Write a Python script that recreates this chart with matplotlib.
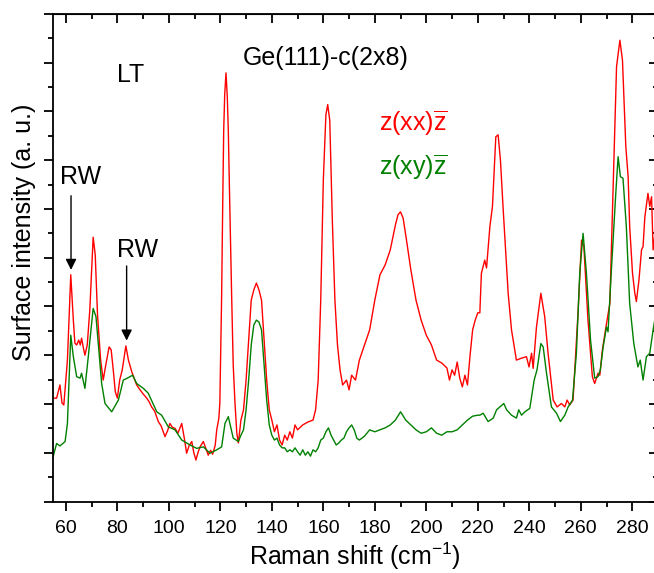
import numpy as np
import matplotlib
matplotlib.use("Agg")
from matplotlib import pyplot as plt
from matplotlib.ticker import MultipleLocator, NullFormatter

plt.rcParams['font.family'] = ['Liberation Sans', 'DejaVu Sans']
plt.rcParams['mathtext.fontset'] = 'custom'
plt.rcParams['mathtext.rm'] = 'Liberation Sans'
plt.rcParams['mathtext.it'] = 'Liberation Sans:italic'
plt.rcParams['mathtext.bf'] = 'Liberation Sans:bold'
plt.rcParams['mathtext.default'] = 'regular'

# z(xx)z spectrum (red)
shift_xx = [55.0, 56.4, 57.7, 58.5, 59.2, 60.6, 61.9, 62.9, 63.5, 64.2, 65.0, 65.6, 66.1, 66.8,
            67.4, 68.3, 69.3, 70.6, 71.4, 72.3, 73.5, 74.5, 75.5, 76.8, 77.6, 78.4, 79.2, 80.0,
            80.9, 81.9, 83.3, 84.3, 85.6, 86.5, 87.5, 88.8, 90.1, 91.4, 92.3, 93.3, 94.5, 95.9,
            97.0, 98.5, 99.5, 100.4, 101.4, 102.4, 103.5, 105.0, 106.0, 106.9, 107.9, 108.9,
            109.7, 110.5, 111.3, 112.1, 113.4, 114.3, 115.3, 116.2, 117.0, 118.0, 118.6, 119.4,
            119.8, 120.5, 120.9, 121.3, 121.7, 122.2, 122.7, 123.1, 123.5, 124.4, 125.0, 125.7,
            126.4, 127.0, 128, 129, 130, 131, 132, 133, 134, 135, 136, 137, 138, 139, 140, 141,
            142, 143, 144, 145, 146, 147, 148, 149, 150, 152, 154, 156, 157, 158, 159, 160, 161,
            161.7, 162.5, 163.5, 164.5, 165.5, 166.5, 167.5, 169, 170, 171, 172.5, 174, 176, 178,
            180, 182, 184, 186, 188, 189, 190, 191, 192, 194, 196, 198, 200, 202, 204, 206, 208,
            209, 210, 211, 212, 213, 214, 215, 216, 217, 218, 219, 220, 220.8, 221.4, 222.7,
            223.4, 224.7, 225.7, 227.0, 227.9, 228.8, 229.8, 231.8, 233.1, 235.0, 237.0, 238.9,
            239.9, 240.9, 241.5, 242.8, 244.5, 246.0, 247.3, 249.3, 250.8, 252.5, 253.8, 254.7,
            255.7, 257.0, 259.0, 260.3, 261.2, 262.8, 264.5, 265.4, 266.7, 267.4, 268.4, 270.0,
            271.3, 272.6, 273.9, 275.2, 276.2, 277.5, 278.4, 279.0, 280.1, 281.0, 281.6, 282.6,
            283.6, 284.2, 284.9, 286.1, 286.8, 287.5, 288.1, 289.0, 290.0]
inten_xx = [2.12, 2.12, 2.39, 2.02, 1.98, 2.90, 4.65, 3.72, 3.25, 3.21, 3.31, 3.21, 3.35, 3.15,
            3.00, 3.21, 3.93, 5.42, 5.06, 3.82, 2.90, 2.49, 2.80, 3.17, 3.11, 2.70, 2.25, 2.12,
            2.49, 2.70, 3.19, 2.90, 2.66, 2.53, 2.39, 2.29, 2.20, 2.12, 2.05, 1.94, 1.85, 1.64,
            1.55, 1.33, 1.45, 1.60, 1.52, 1.50, 1.40, 1.60, 1.30, 0.99, 1.15, 1.23,
            1.00, 0.85, 1.00, 1.12, 1.23, 1.10, 0.95, 1.05, 0.97, 1.15, 1.47, 1.70,
            2.01, 4.20, 6.00, 7.60, 8.35, 8.79, 8.30, 7.60, 6.50, 4.20, 2.80, 2.01,
            1.40, 1.20, 1.67, 1.88, 2.49, 3.31, 4.13, 4.34, 4.48, 4.34, 4.13, 3.31, 2.49, 1.88,
            1.67, 1.43, 1.57, 1.26, 1.16, 1.36, 1.26, 1.43, 1.30, 1.57, 1.47, 1.57, 1.63, 1.67,
            1.88, 2.49, 4.13, 6.59, 7.93, 8.14, 7.82, 5.77, 4.13, 3.21, 2.70, 2.39, 2.49, 2.29,
            2.59, 2.49, 2.90, 3.21, 3.52, 4.13, 4.65, 4.85, 5.16, 5.67, 5.88, 5.94, 5.81, 5.47,
            4.75, 4.13, 3.72, 3.41, 3.21, 2.90, 2.84, 2.74, 2.49, 2.70, 2.59, 2.86, 2.53, 2.35,
            2.59, 2.39, 3.00, 3.52, 3.72, 3.87, 3.87, 4.68, 4.95, 4.79, 5.64, 6.05, 7.48, 7.52,
            7.00, 6.05, 4.27, 3.52, 2.90, 2.94, 2.97, 2.76, 3.04, 2.73, 3.58, 4.27, 3.79, 3.04,
            2.08, 1.94, 2.01, 1.94, 2.08, 1.98, 2.08, 3.93, 5.36, 5.23, 3.72, 2.56, 2.42, 2.63,
            2.59, 3.11, 3.65, 4.06, 6.46, 8.92, 9.46, 9.05, 7.28, 6.66, 5.64, 4.68, 4.27, 4.10,
            4.54, 5.16, 5.23, 5.84, 6.32, 6.05, 6.25, 5.16, 5.57, 5.26]

# z(xy)z spectrum (green)
shift_xy = [55.0, 56.4, 57.7, 59.7, 60.6, 61.9, 62.9, 64.2, 65.5, 66.1, 67.4, 68.7, 70.6, 71.7,
            73.0, 73.9, 75.2, 77.8, 80.4, 82.3, 83.9, 85.9, 87.5, 90.1, 92.0, 95.3, 97.2, 99.8,
            102.4, 105.0, 108.2, 110.8, 113.4, 116.0, 118.6, 120.5, 121.8, 123.1, 125.0, 127.0,
            128, 129, 130, 131, 132, 133, 134, 135, 136, 137, 138, 139, 140, 141, 142, 143, 144,
            145, 146, 147, 148, 149, 150, 151, 152, 153, 154, 155, 156, 157, 158, 159, 160, 161,
            162, 163, 164, 165, 166, 167, 168, 169, 170, 171, 172, 173, 174, 176, 178, 180, 182,
            184, 186, 188, 190, 192, 194, 196, 198, 200, 202, 204, 206, 208, 210, 212, 214, 216,
            218, 220, 220.8, 222.1, 224.0, 226.0, 227.3, 230.1, 231.2, 233.1, 235.0, 235.9,
            237.0, 238.3, 240.2, 241.9, 243.0, 244.5, 245.4, 246.7, 248.6, 250.6, 252.1, 253.8,
            255.1, 256.8, 258.3, 259.6, 260.9, 262.2, 263.8, 265.4, 266.7, 267.6, 268.7, 270.0,
            270.6, 271.9, 273.6, 274.5, 275.4, 276.4, 277.7, 279.0, 280.6, 282.2, 283.1, 284.2,
            285.5, 286.8, 288.1, 290.0]
inten_xy = [0.91, 1.19, 1.14, 1.23, 1.60, 3.41, 2.97, 2.56, 2.53, 2.63, 2.32, 2.97, 3.96, 3.79,
            2.97, 2.42, 2.01, 1.84, 2.08, 2.49, 2.53, 2.59, 2.42, 2.32, 2.22, 1.84, 1.77, 1.53,
            1.47, 1.26, 1.16, 1.09, 1.12, 0.99, 1.06, 1.12, 1.60, 1.74, 1.30, 1.23,
            1.36, 1.47, 1.88, 2.49, 3.21, 3.62, 3.72, 3.68, 3.52, 2.80, 2.08, 1.57, 1.36, 1.26,
            1.30, 1.16, 1.10, 1.10, 1.02, 1.06, 1.02, 1.10, 1.02, 0.95, 1.06, 0.95, 1.02, 0.93,
            1.06, 1.02, 1.10, 1.26, 1.30, 1.43, 1.51, 1.36, 1.26, 1.16, 1.20, 1.26, 1.30, 1.43,
            1.51, 1.57, 1.47, 1.30, 1.26, 1.34, 1.47, 1.43, 1.47, 1.51, 1.57, 1.67, 1.84, 1.67,
            1.57, 1.47, 1.40, 1.43, 1.51, 1.40, 1.36, 1.43, 1.43, 1.47, 1.57, 1.67, 1.75, 1.77,
            1.77, 1.81, 1.64, 1.71, 1.88, 2.01, 1.88, 1.77, 1.71, 1.88, 1.77, 1.84, 1.91, 2.49,
            2.70, 3.24, 3.17, 2.63, 1.94, 1.81, 1.64, 1.77, 1.94, 2.08, 3.04, 4.68, 5.50, 4.68,
            3.31, 2.53, 2.56, 2.70, 3.17, 3.58, 3.48, 4.75, 6.32, 7.07, 6.66, 6.63, 5.64, 4.06,
            3.24, 2.76, 2.90, 2.49, 2.97, 3.04, 3.52, 4.13]

W, H = 654, 573
fig = plt.figure(figsize=(W / 100, H / 100), dpi=100)
# right spine sits just past the figure edge
ax = fig.add_axes([53 / W, (H - 501.5) / H, 605 / W, 487.6 / H])

ax.plot(shift_xx, inten_xx, color='#ff0000', lw=1.0)
ax.plot(shift_xy, inten_xy, color='#008000', lw=1.0)

ax.set_xlim(55, 290)
ax.set_ylim(0, 10)

for sp in ax.spines.values():
    sp.set_linewidth(1.3)

ax.xaxis.set_major_locator(MultipleLocator(20))
ax.xaxis.set_minor_locator(MultipleLocator(10))
ax.yaxis.set_major_locator(MultipleLocator(1))
ax.yaxis.set_minor_locator(MultipleLocator(0.5))
ax.yaxis.set_major_formatter(NullFormatter())
ax.tick_params(which='both', direction='out', width=1.3, labelsize=14, pad=6.5,
               top=False, right=False)
ax.tick_params(which='major', length=6.5)
ax.tick_params(which='minor', length=3.5)

# inward ticks on top and right
top = ax.secondary_xaxis('top')
top.xaxis.set_major_locator(MultipleLocator(20))
top.xaxis.set_minor_locator(MultipleLocator(10))
top.tick_params(which='both', direction='in', width=1.3, labeltop=False)
top.tick_params(which='major', length=6.5)
top.tick_params(which='minor', length=3.5)
right = ax.secondary_yaxis('right')
right.yaxis.set_major_locator(MultipleLocator(1))
right.yaxis.set_minor_locator(MultipleLocator(0.5))
right.tick_params(which='both', direction='in', width=1.3, labelright=False)
right.tick_params(which='major', length=6.5)
right.tick_params(which='minor', length=3.5)

fig.text(355 / W, 1 - 564.5 / H, 'Raman shift (cm$^{-1}$)', fontsize=18,
         ha='center', va='baseline')
fig.text(24 / W, 1 - 232 / H, 'Surface intensity (a. u.)', fontsize=18,
         rotation=90, ha='center', va='center')

ax.text(80.0, 8.60, 'LT', fontsize=18, va='baseline')
ax.text(128.7, 8.95, 'Ge(111)-c(2x8)', fontsize=18, va='baseline')
ax.text(181.8, 7.59, r'z(xx)$\overline{z}$', fontsize=18, color='#ff0000', va='baseline')
ax.text(181.8, 6.69, r'z(xy)$\overline{z}$', fontsize=18, color='#008000', va='baseline')

ax.text(57.7, 6.51, 'RW', fontsize=18, va='baseline')
ax.annotate('', xy=(62.0, 4.75), xytext=(62.0, 6.27),
            arrowprops=dict(arrowstyle='-|>', color='black', lw=1.0, mutation_scale=16,
                            shrinkA=0, shrinkB=0))
ax.text(79.7, 5.02, 'RW', fontsize=18, va='baseline')
ax.annotate('', xy=(83.6, 3.30), xytext=(83.6, 4.83),
            arrowprops=dict(arrowstyle='-|>', color='black', lw=1.0, mutation_scale=16,
                            shrinkA=0, shrinkB=0))

fig.savefig('out.png', dpi=100)
